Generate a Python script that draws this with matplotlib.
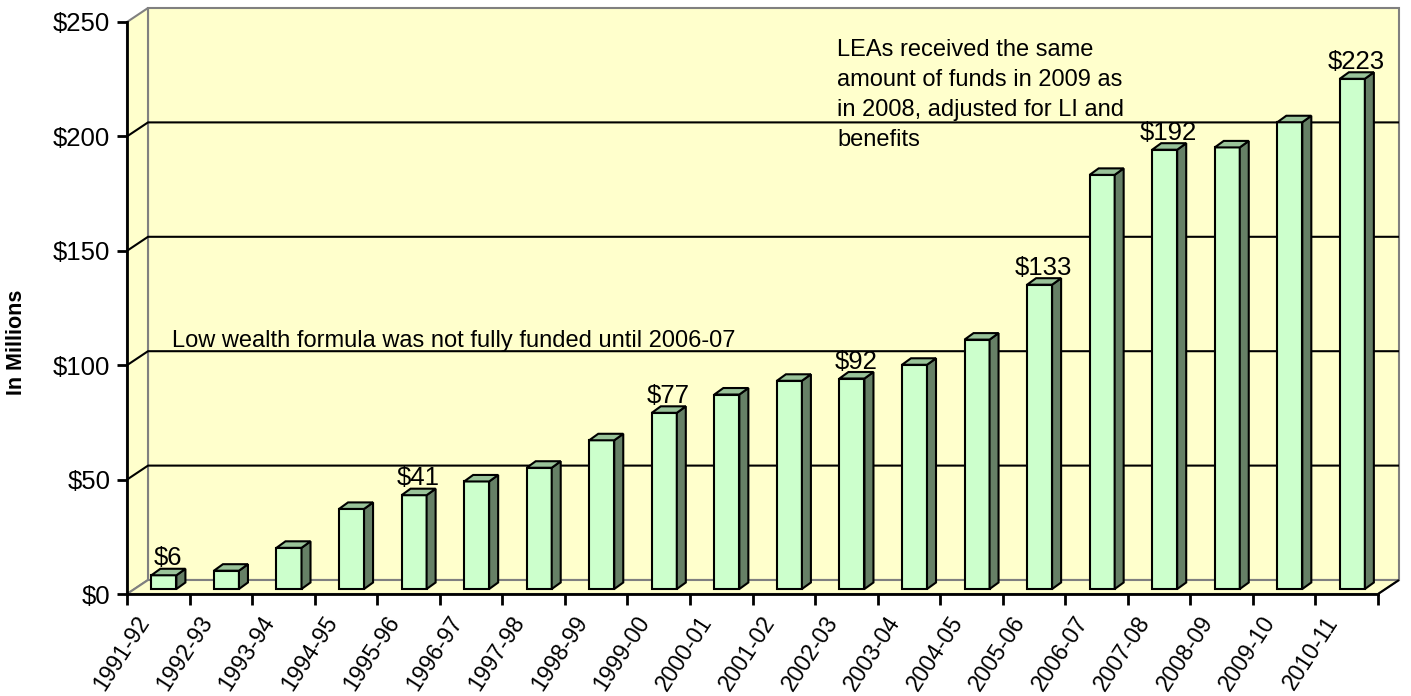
import matplotlib.pyplot as plt
import matplotlib.transforms as mtransforms
from matplotlib.patches import Polygon

plt.rcParams["font.family"] = ["Liberation Sans", "DejaVu Sans"]

years = ["1991-92", "1992-93", "1993-94", "1994-95", "1995-96", "1996-97",
         "1997-98", "1998-99", "1999-00", "2000-01", "2001-02", "2002-03",
         "2003-04", "2004-05", "2005-06", "2006-07", "2007-08", "2008-09",
         "2009-10", "2010-11"]
funds = [6, 8, 18, 35, 41, 47, 53, 65, 77, 85, 91, 92, 98, 109, 133, 181,
         192, 193, 204, 223]
labelled = [0, 4, 8, 11, 14, 16, 19]
yticks = [0, 50, 100, 150, 200, 250]
ytick_labels = ["$0", "$50", "$100", "$150", "$200", "$250"]

note_low = "Low wealth formula was not fully funded until 2006-07"
note_lea = ("LEAs received the same\namount of funds in 2009 as\n"
            "in 2008, adjusted for LI and\nbenefits")

WALL = "#FFFFCC"
WALL_EDGE = "#808080"
FRONT = "#CCFFCC"
SIDE = "#668066"
TOP = "#99C399"

fig = plt.figure(figsize=(14.11, 6.96), dpi=100)
ax = fig.add_axes([127 / 1411, 102 / 696, 1251 / 1411, 572 / 696])
n = len(years)
ax.set_xlim(0, n)
ax.set_ylim(0, 250)
ax.patch.set_visible(False)
for s in ["top", "right"]:
    ax.spines[s].set_visible(False)
for s in ["left", "bottom"]:
    ax.spines[s].set_linewidth(2)
    ax.spines[s].set_zorder(3)

ident = mtransforms.IdentityTransform()
DX, DY = 21, 14          # wall depth in pixels
FX, FY = 7.5, 5          # bar front plane offset
BX, BY = 9, 6.5          # bar depth
BW = 0.4                 # bar width in category units
BC = 0.47                # bar centre inside category


def pt(x, y, dx=0, dy=0):
    px, py = ax.transData.transform((x, y))
    return (px + dx, py + dy)


def face(pts, fc, ec, lw, z):
    ax.add_patch(Polygon(pts, closed=True, facecolor=fc, edgecolor=ec,
                         linewidth=lw, transform=ident, clip_on=False,
                         zorder=z, joinstyle="miter"))


def seg(pts, color, lw, z):
    xs, ys = zip(*pts)
    ax.plot(xs, ys, color=color, lw=lw, transform=ident, clip_on=False,
            zorder=z, solid_capstyle="butt")


# walls
face([pt(0, 0, DX, DY), pt(n, 0, DX, DY), pt(n, 250, DX, DY), pt(0, 250, DX, DY)],
     WALL, WALL_EDGE, 1.5, 0.5)
face([pt(0, 0), pt(0, 0, DX, DY), pt(0, 250, DX, DY), pt(0, 250)],
     WALL, WALL_EDGE, 1.5, 0.5)
face([pt(0, 0), pt(n, 0), pt(n, 0, DX, DY), pt(0, 0, DX, DY)],
     WALL, WALL_EDGE, 1.5, 0.5)
seg([pt(n, 0), pt(n, 0, DX, DY)], "black", 1.5, 0.7)

# gridlines
for v in yticks[1:-1]:
    seg([pt(0, v), pt(0, v, DX, DY), pt(n, v, DX, DY)], "black", 1.5, 0.6)

# bars
for i, v in enumerate(funds):
    x0 = i + BC - BW / 2
    x1 = i + BC + BW / 2
    face([pt(x0, 0, FX, FY), pt(x1, 0, FX, FY), pt(x1, v, FX, FY), pt(x0, v, FX, FY)],
         FRONT, "black", 1.5, 2)
    face([pt(x1, 0, FX, FY), pt(x1, 0, FX + BX, FY + BY),
          pt(x1, v, FX + BX, FY + BY), pt(x1, v, FX, FY)],
         SIDE, "black", 1.5, 2)
    face([pt(x0, v, FX, FY), pt(x1, v, FX, FY),
          pt(x1, v, FX + BX, FY + BY), pt(x0, v, FX + BX, FY + BY)],
         TOP, "black", 1.5, 2)

# data labels
lab_tr = mtransforms.offset_copy(ax.transData, fig=fig, x=FX + 4, y=FY + 5, units="dots")
for i in labelled:
    ax.text(i + BC, funds[i], f"${funds[i]}", transform=lab_tr, ha="center",
            va="bottom", fontsize=18.5, zorder=5)

# axes ticks
ax.set_yticks(yticks, ytick_labels)
ax.tick_params(axis="y", length=7, width=2, pad=5, labelsize=18.5)
ax.set_xticks(range(n + 1))
ax.set_xticklabels([])
ax.tick_params(axis="x", length=8, width=2)

xl_tr = mtransforms.offset_copy(ax.transData, fig=fig, x=-4, y=-18, units="dots")
for i, yr in enumerate(years):
    ax.text(i + 0.5, 0, yr, transform=xl_tr, rotation=57, ha="right", va="top",
            fontsize=16.5, clip_on=False)

fig.text(16.5 / 1411, 1 - 342 / 696, "In Millions", rotation=90, ha="center",
         va="center", fontsize=15.5, fontweight="bold")

# annotations
ax.text(0.72, 108, note_low, fontsize=17, va="baseline", ha="left", zorder=5)
ax.text(11.35, 242.5, note_lea, fontsize=17, va="top", ha="left",
        linespacing=1.47, zorder=5)

fig.savefig("out.png", dpi=100, facecolor="white")
